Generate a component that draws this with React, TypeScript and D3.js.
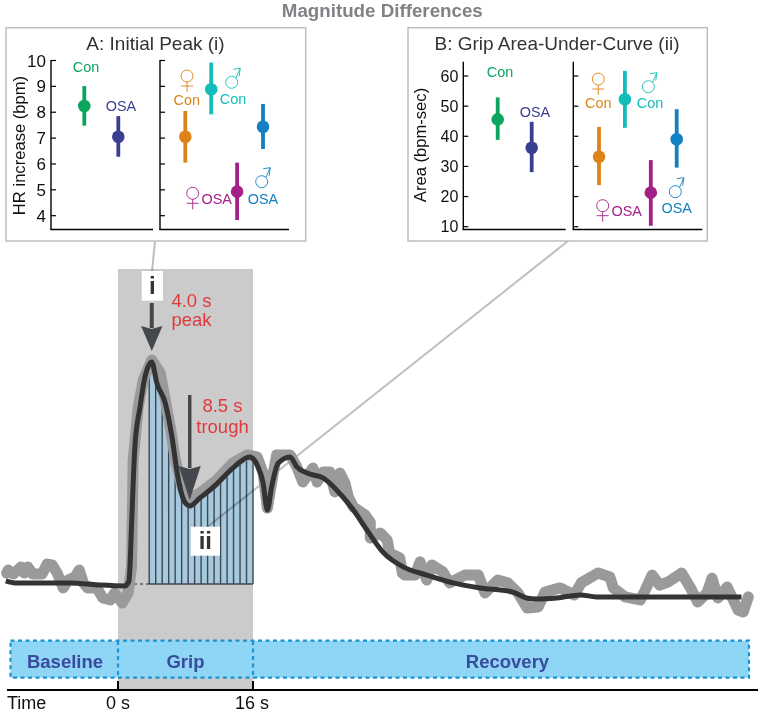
import React from "react";
import * as d3 from "d3";

// Bar chart panels: order is female Con, male Con, female OSA, male OSA on the right side
const allGroups = ["Con", "OSA"];
const sexGroups = ["fCon", "mCon", "fOSA", "mOSA"];

const peakAllMean = [8.24, 7.05];
const peakAllLow = [7.48, 6.28];
const peakAllHigh = [9.01, 7.85];
const peakSexMean = [7.05, 8.89, 4.93, 7.44];
const peakSexLow = [6.05, 7.92, 3.83, 6.58];
const peakSexHigh = [8.05, 9.92, 6.05, 8.32];
const peakTicks = [4, 5, 6, 7, 8, 9, 10];

const areaAllMean = [45.6, 36.2];
const areaAllLow = [38.8, 28.1];
const areaAllHigh = [52.9, 44.8];
const areaSexMean = [33.2, 52.3, 21.3, 39];
const areaSexLow = [23.8, 42.8, 10.3, 29.6];
const areaSexHigh = [43.1, 61.7, 32.1, 49];
const areaTicks = [10, 20, 30, 40, 50, 60];

const allColors = ["#0ba560", "#3b3f92"];
const sexColors = ["#dd8317", "#12bdb9", "#a32089", "#1380c1"];

// Group mean heart rate trace, seconds from grip onset vs bpm above baseline
const meanTime = [-13.3, -12.2, -9.2, -5.7, -2.1, 0.8, 1.3, 1.4, 1.6, 2.0, 2.6, 3.2, 4.0, 4.6, 5.6, 6.4, 7.1, 7.9, 8.5, 9.7, 11.7, 13.6, 15.6, 16.6, 17.2, 17.7, 18.2, 19.0, 20.4, 21.2, 22.4, 24.3, 25.9, 27.9, 29.5, 31.4, 33.8, 36.6, 39.7, 42.9, 46.8, 48.4, 49.6, 52, 54.8, 56.7, 62.7, 73.9];
const meanHr = [0.11, 0.04, 0.04, 0.04, -0.04, -0.07, 0.11, 0.5, 2.04, 4.9, 6.3, 7.4, 7.93, 7.18, 6.46, 5.25, 3.82, 2.93, 2.79, 3.07, 3.57, 4.14, 4.54, 4.18, 3.61, 2.64, 3.46, 4.32, 4.54, 4.18, 3.96, 3.79, 3.36, 2.64, 1.93, 1.14, 0.61, 0.32, 0.04, -0.14, -0.29, -0.5, -0.54, -0.5, -0.39, -0.46, -0.46, -0.46];

// Raw noisy trace behind it
const rawTime = [-13.2, -13, -12.4, -11.5, -11.1, -10.7, -10.1, -9, -8.4, -7.8, -7.2, -6.5, -5.9, -5.1, -4.6, -4.1, -3.6, -2.5, -1.8, -0.9, -0.4, 0.5, 1.2, 1.6, 1.8, 2.4, 3.0, 4.0, 5.0, 5.6, 6.2, 6.8, 7.6, 8.3, 9.7, 11.7, 13.6, 15.3, 16.5, 17.2, 17.7, 18.4, 18.8, 20.4, 21.2, 21.9, 23.1, 23.6, 24.3, 25.1, 25.7, 26.3, 26.9, 27.3, 27.9, 29.3, 29.9, 29.9, 31.1, 31.9, 32.2, 33.4, 33.7, 34, 35.2, 35.8, 36.6, 37.2, 38.5, 39.3, 41.1, 42.7, 43.5, 45, 46.2, 47.4, 48.5, 49.8, 50.6, 52.4, 53.6, 54.1, 54.9, 56.9, 58.3, 58.7, 60.1, 61.9, 62.5, 63.3, 64.2, 65.2, 66.8, 67.8, 68.7, 69.8, 70.4, 71.1, 72.2, 73.5, 74.1, 74.7];
const rawHr = [0.39, 0.5, 0.36, 0.61, 0.39, 0.61, 0.36, 0.36, 0.71, 0.68, 0.39, -0.14, 0.14, 0.25, 0.5, 0.04, -0.14, -0.14, -0.5, -0.57, -0.32, -0.68, -0.32, 0.61, 4.43, 6.32, 7.29, 8.0, 7.54, 6.57, 5.61, 4.43, 3.46, 3.0, 3.25, 3.71, 4.32, 4.61, 4.54, 3.96, 2.71, 3.96, 4.61, 4.61, 4.18, 3.64, 4.14, 3.64, 4.0, 4.0, 3.29, 3.96, 3.61, 3.11, 2.75, 2.46, 2.21, 1.64, 1.82, 1.57, 1.11, 0.93, 0.39, 0.32, 0.32, 0.79, 0.14, 0.68, 0.43, 0.04, 0.32, 0.32, -0.32, 0.14, 0.04, -0.32, -0.86, -0.82, -0.29, -0.14, -0.32, -0.39, 0.04, 0.39, 0.25, -0.14, -0.46, -0.57, -0.21, 0.32, -0.04, 0.07, 0.39, -0.11, -0.64, -0.32, 0.21, -0.5, -0.11, -0.93, -1.0, -0.46];

const peakTime = 4.0;
const troughTime = 8.5;
const gripEnd = 16;
const hatchStart = 3.7;
const hatchCount = 17;

const sans = "'Liberation Sans', Arial, sans-serif";
const arrowColor = "#44484d";
const red = "#e03a3e";

const xTime = d3.scaleLinear().domain([0, gripEnd]).range([118, 253]);
const yHr = d3.scaleLinear().domain([0, 8]).range([584, 360]);

const traceLine = d3.line<[number, number]>().x(d => xTime(d[0])).y(d => yHr(d[1]));
const meanPts = meanTime.map((t, i) => [t, meanHr[i]] as [number, number]);
const rawPts = rawTime.map((t, i) => [t, rawHr[i]] as [number, number]);
const meanPath = traceLine.curve(d3.curveMonotoneX)(meanPts) ?? "";
const rawPath = traceLine.curve(d3.curveLinear)(rawPts) ?? "";
const underCurve = d3.area<[number, number]>().x(d => xTime(d[0])).y0(yHr(0)).y1(d => yHr(d[1])).curve(d3.curveMonotoneX)(meanPts.filter(d => d[0] > 3 && d[0] < 17)) ?? "";
const hatchTimes = d3.range(hatchCount).map(i => hatchStart + ((gripEnd - hatchStart) * i) / (hatchCount - 1));

function Dots({ groups, mean, low, high, colors, x, y }: { groups: string[]; mean: number[]; low: number[]; high: number[]; colors: string[]; x: d3.ScalePoint<string>; y: d3.ScaleLinear<number, number> }) {
  return (
    <g>
      {groups.map((g, i) => (
        <g key={g} fill={colors[i]} stroke={colors[i]}>
          <line x1={x(g)} x2={x(g)} y1={y(low[i])} y2={y(high[i])} strokeWidth={3.8} />
          <circle cx={x(g)} cy={y(mean[i])} r={6.3} stroke="none" />
        </g>
      ))}
    </g>
  );
}

function YAxis({ x, y, ticks, top, labels, size }: { x: number; y: d3.ScaleLinear<number, number>; ticks: number[]; top: number; labels: boolean; size: number }) {
  return (
    <g>
      <line x1={x} x2={x} y1={top} y2={229.5} stroke="#000" strokeWidth={1.4} />
      {ticks.map(t => (
        <g key={t} transform={`translate(${x},${y(t)})`}>
          <line x1={0} x2={5} stroke="#000" strokeWidth={1.2} />
          {labels && (
            <text x={-5} y={size * 0.36} textAnchor="end" fontSize={size} fill="#111">{t}</text>
          )}
        </g>
      ))}
    </g>
  );
}

// thin outlined sex symbols
function Female({ x, y, color }: { x: number; y: number; color: string }) {
  return (
    <g fill="none" stroke={color} strokeWidth={0.9}>
      <circle cx={x} cy={y} r={6} />
      <path d={`M${x},${y + 6}V${y + 16}M${x - 6},${y + 10}H${x + 6}`} />
    </g>
  );
}

function Male({ x, y, color }: { x: number; y: number; color: string }) {
  return (
    <g fill="none" stroke={color} strokeWidth={0.9}>
      <circle cx={x} cy={y} r={6} />
      <path d={`M${x + 4.2},${y - 4.2}L${x + 8.5},${y - 14}M${x + 1.5},${y - 13}L${x + 8.5},${y - 14}L${x + 7.5},${y - 6}`} />
    </g>
  );
}

function Label({ x, y, text, color }: { x: number; y: number; text: string; color: string }) {
  return <text x={x} y={y} textAnchor="middle" fontSize={14.4} fill={color}>{text}</text>;
}

function PanelA() {
  const y = d3.scaleLinear().domain([4, 10]).range([215.7, 60.5]);
  const xAll = d3.scalePoint<string>().domain(allGroups).range([84.3, 118.3]);
  const xSex = d3.scalePoint<string>().domain(sexGroups).range([185.3, 263]);
  return (
    <g>
      <rect x={6} y={27.7} width={299.7} height={213.3} fill="#fff" stroke="#bcbec0" strokeWidth={1.5} />
      <text x={155.5} y={50} textAnchor="middle" fontSize={19} fill="#333">A: Initial Peak (i)</text>
      <text transform="translate(25,145.5) rotate(-90)" textAnchor="middle" fontSize={16.6} fill="#111">HR increase (bpm)</text>
      <YAxis x={51} y={y} ticks={peakTicks} top={60} labels size={17} />
      <YAxis x={160} y={y} ticks={peakTicks} top={60} labels={false} size={17} />
      <line x1={50.3} x2={153} y1={229.5} y2={229.5} stroke="#000" strokeWidth={1.4} />
      <line x1={159.3} x2={289} y1={229.5} y2={229.5} stroke="#000" strokeWidth={1.4} />
      <Dots groups={allGroups} mean={peakAllMean} low={peakAllLow} high={peakAllHigh} colors={allColors} x={xAll} y={y} />
      <Dots groups={sexGroups} mean={peakSexMean} low={peakSexLow} high={peakSexHigh} colors={sexColors} x={xSex} y={y} />
      <Label x={86} y={72} text="Con" color={allColors[0]} />
      <Label x={121} y={111} text="OSA" color={allColors[1]} />
      <Label x={186.7} y={104.5} text="Con" color={sexColors[0]} />
      <Label x={233} y={104} text="Con" color={sexColors[1]} />
      <Label x={216.7} y={204} text="OSA" color={sexColors[2]} />
      <Label x={263} y={204} text="OSA" color={sexColors[3]} />
      <Female x={187} y={76} color={sexColors[0]} />
      <Male x={231.7} y={82.3} color={sexColors[1]} />
      <Female x={192.7} y={193.3} color={sexColors[2]} />
      <Male x={261.7} y={181.7} color={sexColors[3]} />
    </g>
  );
}

function PanelB() {
  const y = d3.scaleLinear().domain([10, 60]).range([226.7, 76]);
  const xAll = d3.scalePoint<string>().domain(allGroups).range([497.7, 531.7]);
  const xSex = d3.scalePoint<string>().domain(sexGroups).range([599, 676.7]);
  return (
    <g>
      <rect x={408} y={27.7} width={299.3} height={213.3} fill="#fff" stroke="#bcbec0" strokeWidth={1.5} />
      <text x={557} y={50} textAnchor="middle" fontSize={19} fill="#333">B: Grip Area-Under-Curve (ii)</text>
      <text transform="translate(426,145) rotate(-90)" textAnchor="middle" fontSize={16.6} fill="#111">Area (bpm-sec)</text>
      <YAxis x={463.3} y={y} ticks={areaTicks} top={61.7} labels size={16} />
      <YAxis x={573.3} y={y} ticks={areaTicks} top={61.7} labels={false} size={16} />
      <line x1={462.6} x2={565.7} y1={229.5} y2={229.5} stroke="#000" strokeWidth={1.4} />
      <line x1={572.6} x2={702.3} y1={229.5} y2={229.5} stroke="#000" strokeWidth={1.4} />
      <Dots groups={allGroups} mean={areaAllMean} low={areaAllLow} high={areaAllHigh} colors={allColors} x={xAll} y={y} />
      <Dots groups={sexGroups} mean={areaSexMean} low={areaSexLow} high={areaSexHigh} colors={sexColors} x={xSex} y={y} />
      <Label x={500} y={77} text="Con" color={allColors[0]} />
      <Label x={535} y={116.7} text="OSA" color={allColors[1]} />
      <Label x={598.3} y={107.7} text="Con" color={sexColors[0]} />
      <Label x={650} y={107.7} text="Con" color={sexColors[1]} />
      <Label x={626.7} y={215.7} text="OSA" color={sexColors[2]} />
      <Label x={676.7} y={213.3} text="OSA" color={sexColors[3]} />
      <Female x={598.3} y={79} color={sexColors[0]} />
      <Male x={648.3} y={86.7} color={sexColors[1]} />
      <Female x={602.7} y={205.7} color={sexColors[2]} />
      <Male x={675.3} y={191.7} color={sexColors[3]} />
    </g>
  );
}

function Arrow({ t, from, headTop, tip, half, width }: { t: number; from: number; headTop: number; tip: number; half: number; width: number }) {
  const x = xTime(t);
  return (
    <g fill={arrowColor} stroke={arrowColor}>
      <line x1={x} x2={x} y1={from} y2={headTop + 2} strokeWidth={width} />
      <path d={`M${x - half},${headTop}L${x},${headTop + 3}L${x + half},${headTop}L${x},${tip}Z`} stroke="none" />
    </g>
  );
}

export default function App() {
  return (
    <svg width={763} height={714} style={{ position: "absolute", left: 0, top: 0, fontFamily: sans }}>
      <defs>
        <clipPath id="under-curve"><path d={underCurve} /></clipPath>
      </defs>
      <rect x={xTime(0)} y={269} width={xTime(gripEnd) - xTime(0)} height={421} fill="#cbcbcb" />

      <g clipPath="url(#under-curve)">
        <rect x={xTime(hatchStart)} y={yHr(8.2)} width={xTime(gripEnd) - xTime(hatchStart)} height={yHr(0) - yHr(8.2)} fill="#a6c9dd" />
        {hatchTimes.map(t => (
          <line key={t} x1={xTime(t)} x2={xTime(t)} y1={yHr(0)} y2={yHr(8.2)} stroke="#3d4750" strokeWidth={1.4} />
        ))}
      </g>
      <line x1={xTime(hatchStart)} x2={xTime(gripEnd)} y1={yHr(0)} y2={yHr(0)} stroke="#3d4750" strokeWidth={1.6} />
      <line x1={xTime(1.2)} x2={xTime(hatchStart)} y1={yHr(0)} y2={yHr(0)} stroke="#222" strokeWidth={1} strokeDasharray="3,3" />

      <g stroke="#bdbec0" strokeWidth={2} style={{ mixBlendMode: "multiply" }}>
        <line x1={155} y1={241} x2={152} y2={272} />
        <line x1={568} y1={241} x2={206} y2={528} />
      </g>

      <text x={382.3} y={17} textAnchor="middle" fontSize={17.5} fontWeight="bold" fill="#808285" textLength={201} lengthAdjust="spacingAndGlyphs">Magnitude Differences</text>
      <PanelA />
      <PanelB />

      <path d={rawPath} fill="none" stroke="#9a9a9c" strokeWidth={11} strokeLinejoin="round" strokeLinecap="round" />
      <path d={meanPath} fill="none" stroke="#333" strokeWidth={5} strokeLinejoin="round" />

      <Arrow t={peakTime} from={303} headTop={326} tip={351} half={10.7} width={4} />
      <Arrow t={troughTime} from={395} headTop={466} tip={500} half={11} width={3.5} />

      <rect x={141.7} y={271} width={21.3} height={29.7} fill="#fff" />
      <text x={152.3} y={294} textAnchor="middle" fontSize={24} fontWeight="bold" fill="#333">i</text>
      <rect x={190.7} y={526.7} width={29.3} height={29} fill="#fff" />
      <text x={205.3} y={549} textAnchor="middle" fontSize={24} fontWeight="bold" fill="#333">ii</text>

      <g fill={red} fontSize={18.5} textAnchor="middle">
        <text x={191.5} y={306.5}>4.0 s</text>
        <text x={191.5} y={326}>peak</text>
        <text x={222.5} y={411.5}>8.5 s</text>
        <text x={222.5} y={433}>trough</text>
      </g>

      <rect x={10.5} y={640.7} width={738.5} height={37} fill="#8fd5f6" stroke="#1b95d1" strokeWidth={2.2} strokeDasharray="4,3.5" />
      <g stroke="#1b95d1" strokeWidth={2.2} strokeDasharray="4,3.5">
        <line x1={xTime(0)} x2={xTime(0)} y1={641} y2={678} />
        <line x1={xTime(gripEnd)} x2={xTime(gripEnd)} y1={641} y2={678} />
      </g>
      <g fill="#3a4a9c" fontSize={18.5} fontWeight="bold" textAnchor="middle">
        <text x={65} y={667.7}>Baseline</text>
        <text x={185.5} y={667.7}>Grip</text>
        <text x={507.5} y={667.7}>Recovery</text>
      </g>

      <line x1={7} x2={758} y1={690} y2={690} stroke="#000" strokeWidth={2} />
      {[0, gripEnd].map(t => (
        <line key={t} x1={xTime(t)} x2={xTime(t)} y1={681} y2={690} stroke="#000" strokeWidth={2} />
      ))}
      <g fontSize={18} fill="#111">
        <text x={7} y={709}>Time</text>
        <text x={xTime(0)} y={709} textAnchor="middle">0 s</text>
        <text x={xTime(gripEnd) - 1} y={709} textAnchor="middle">16 s</text>
      </g>
    </svg>
  );
}
